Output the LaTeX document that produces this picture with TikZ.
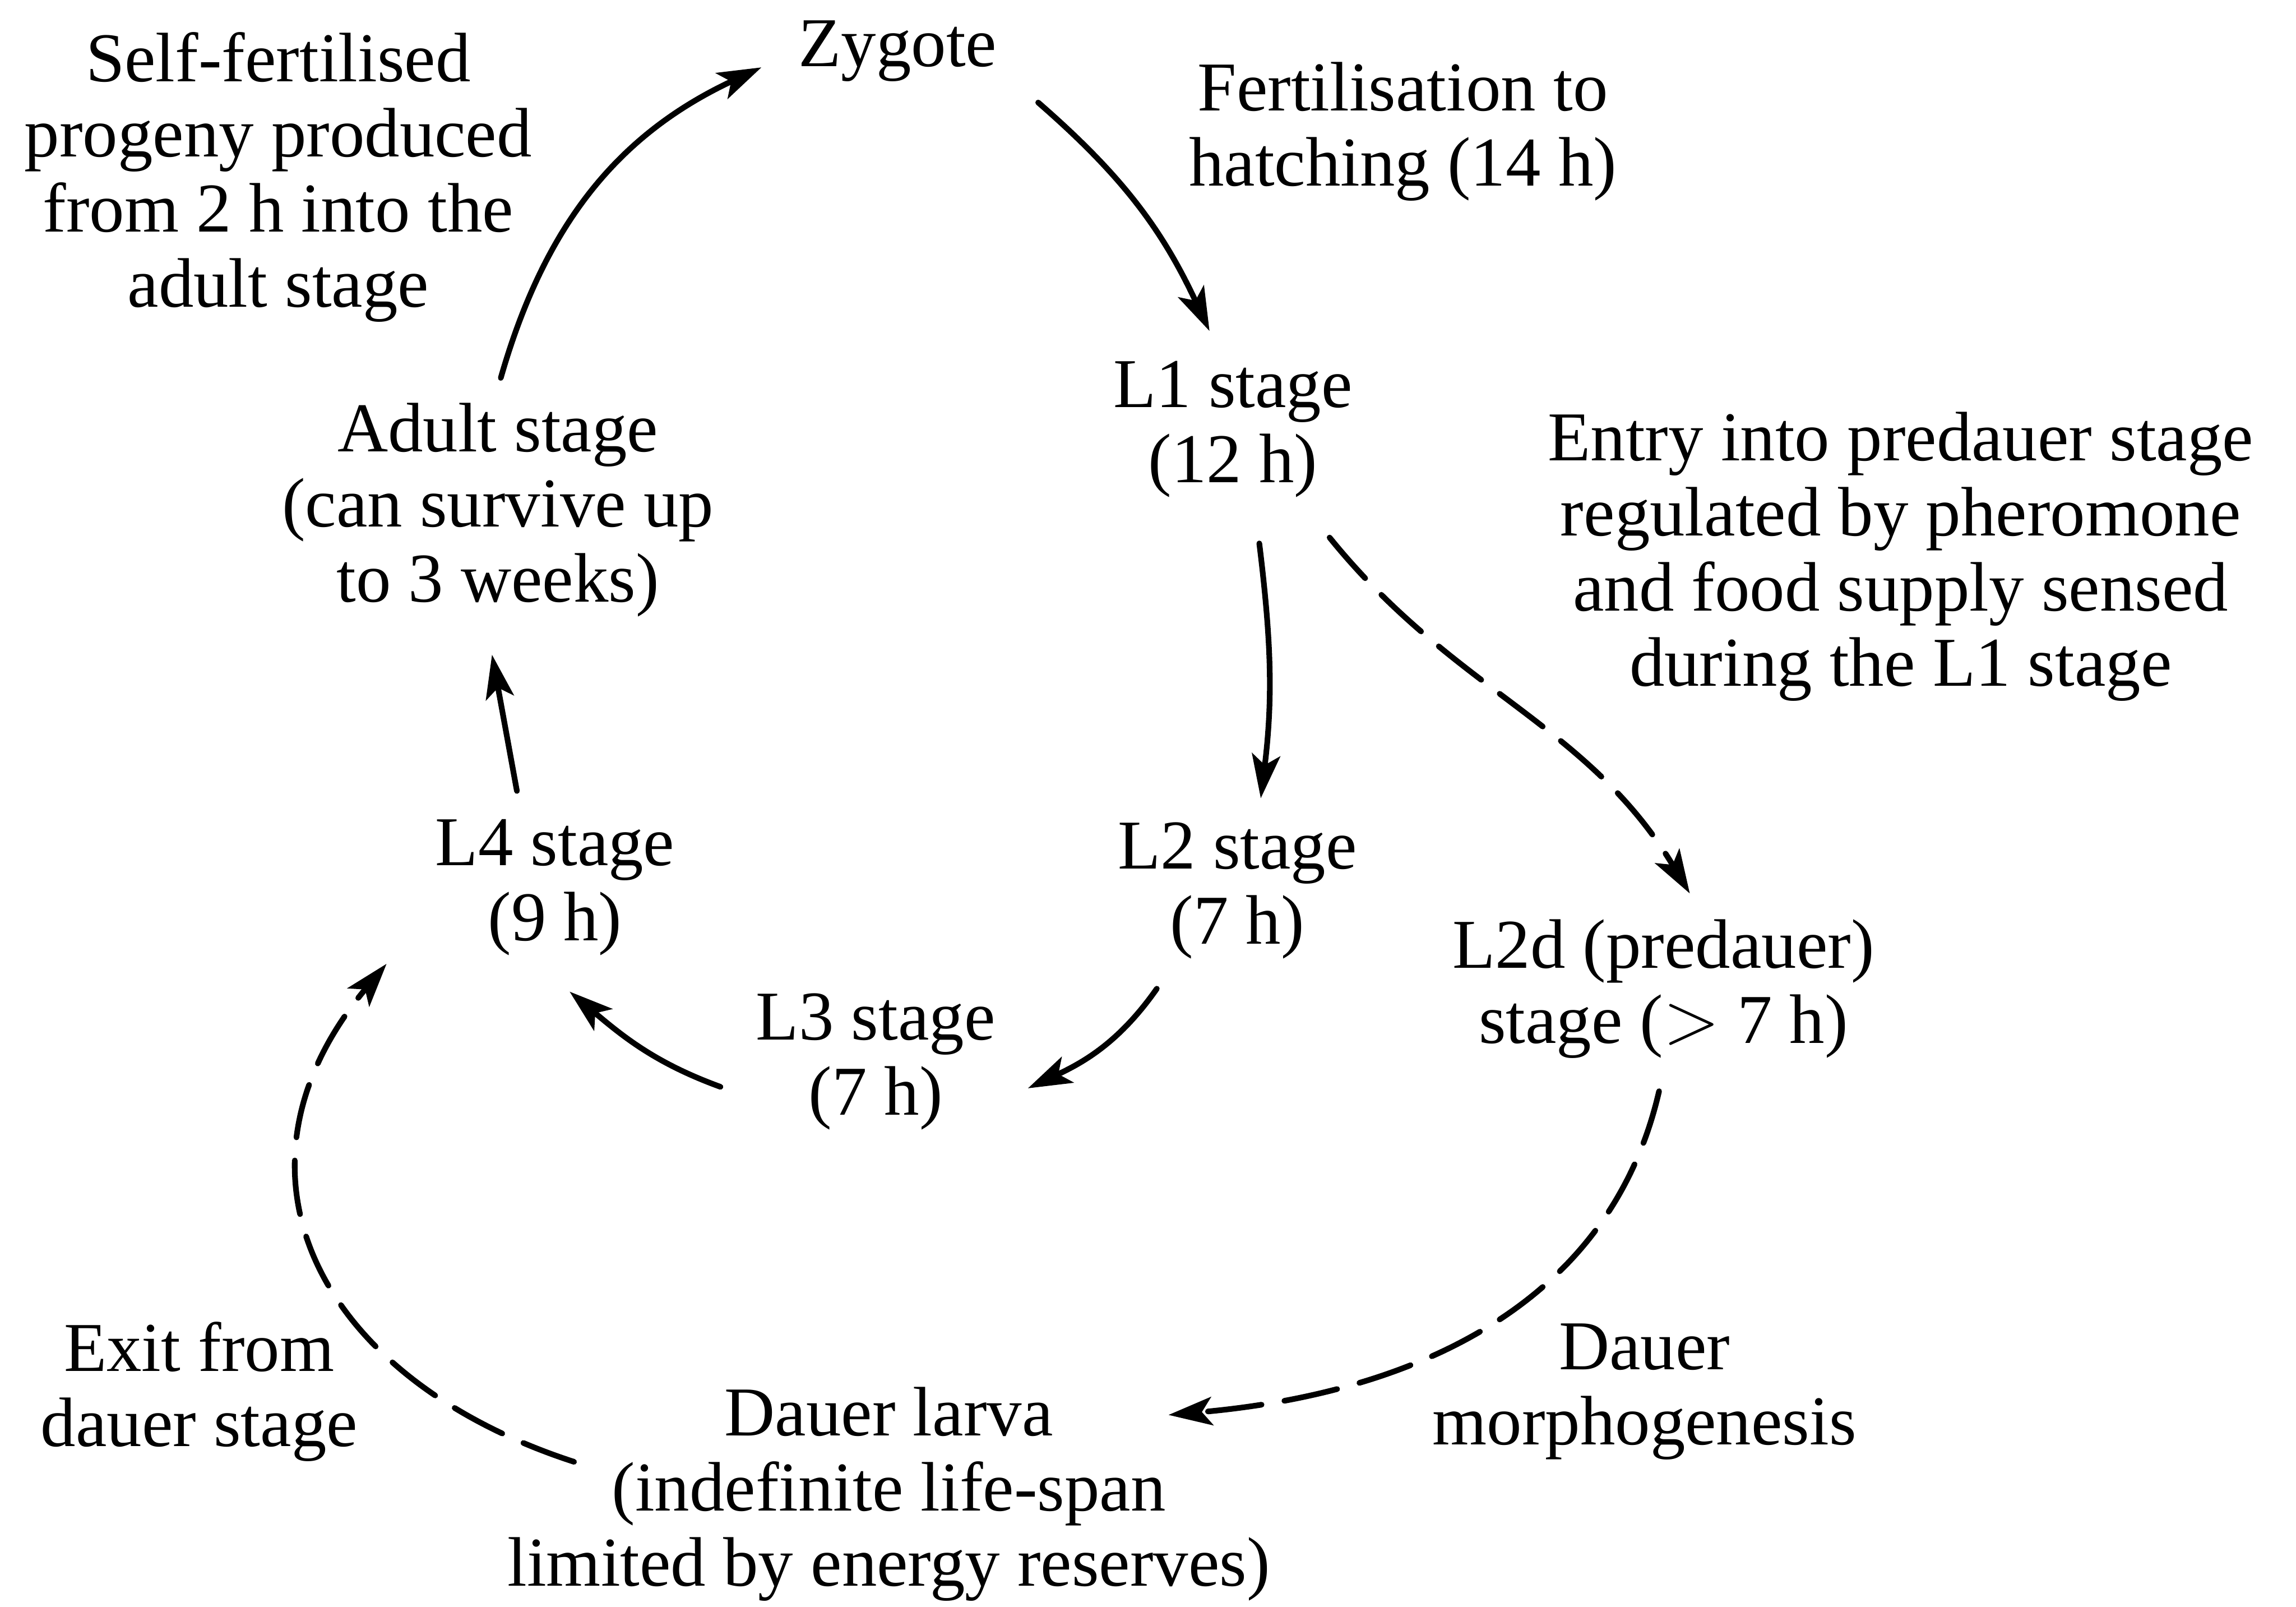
\documentclass[tikz,border=0pt]{standalone}
\usepackage{fontspec}
\setmainfont{Liberation Serif}
\usepackage{tikz}
\usetikzlibrary{arrows.meta}
\tikzstyle{stagetext} = [align=center, inner sep=0pt, font=\fontsize{13.6}{14.6}\selectfont]
\tikzstyle{cyclearrow} = [line width=1.1pt, line cap=round, -{Stealth[length=8.5pt,width=5.5pt,inset=2pt]}]
\tikzstyle{dauerarrow} = [cyclearrow, dash pattern=on 10.5pt off 4.5pt]

\begin{document}
\begin{tikzpicture}
	\useasboundingbox (0,0) rectangle (15.68,-10.97);
	\node[stagetext] (zygote) at (6.13,-0.35) {Zygote};
	\node[stagetext] (hatch) at (9.58,-0.90) {Fertilisation to\\hatching (14 h)};
	\node[stagetext] (selffert) at (1.90,-1.21) {Self-fertilised\\progeny produced\\from 2 h into the\\adult stage};
	\node[stagetext] (l1) at (8.42,-2.93) {L1 stage\\(12 h)};
	\node[stagetext] (adult) at (3.40,-3.48) {Adult stage\\(can survive up\\to 3 weeks)};
	\node[stagetext] (entry) at (12.98,-3.80) {Entry into predauer stage\\regulated by pheromone\\and food supply sensed\\during the L1 stage};
	\node[stagetext] (l4) at (3.79,-6.06) {L4 stage\\(9 h)};
	\node[stagetext] (l2) at (8.45,-6.08) {L2 stage\\(7 h)};
	\node[stagetext] (l2d) at (11.36,-6.75) {L2d (predauer)\\stage ($>$ 7 h)};
	\node[stagetext] (l3) at (5.98,-7.25) {L3 stage\\(7 h)};
	\node[stagetext] (exit) at (1.36,-9.50) {Exit from\\dauer stage};
	\node[stagetext] (morpho) at (11.23,-9.50) {Dauer\\morphogenesis};
	\node[stagetext] (dauer) at (6.07,-10.20) {Dauer larva\\(indefinite life-span\\limited by energy reserves)};

	\draw[cyclearrow] ([shift={(0.02,0.90)}]adult.center) to[out=74,in=205] ([shift={(-0.93,-0.11)}]zygote.center);
	\draw[cyclearrow] ([shift={(0.96,-0.35)}]zygote.center) to[out=-41,in=115] ([shift={(-0.16,0.67)}]l1.center);
	\draw[cyclearrow] ([shift={(0.18,-0.78)}]l1.center) to[out=-83,in=83] ([shift={(0.16,0.63)}]l2.center);
	\draw[dauerarrow] ([shift={(0.66,-0.74)}]l1.center) to[out=-51,in=121] ([shift={(0.18,0.65)}]l2d.center);
	\draw[cyclearrow] ([shift={(-0.55,-0.67)}]l2.center) to[out=-125,in=25] ([shift={(1.04,-0.18)}]l3.center);
	\draw[cyclearrow] ([shift={(-1.06,-0.17)}]l3.center) to[out=160,in=-40] ([shift={(0.10,-0.71)}]l4.center);
	\draw[cyclearrow] ([shift={(-0.26,0.66)}]l4.center) -- ([shift={(-0.04,-0.99)}]adult.center);
	\draw[dauerarrow] ([shift={(-0.03,-0.70)}]l2d.center) to[out=-103,in=5] ([shift={(1.91,0.54)}]dauer.center);
	\draw[dauerarrow] ([shift={(-2.15,0.22)}]dauer.center) to[out=162,in=230,looseness=1.3] ([shift={(-1.15,-0.52)}]l4.center);
\end{tikzpicture}
\end{document}
